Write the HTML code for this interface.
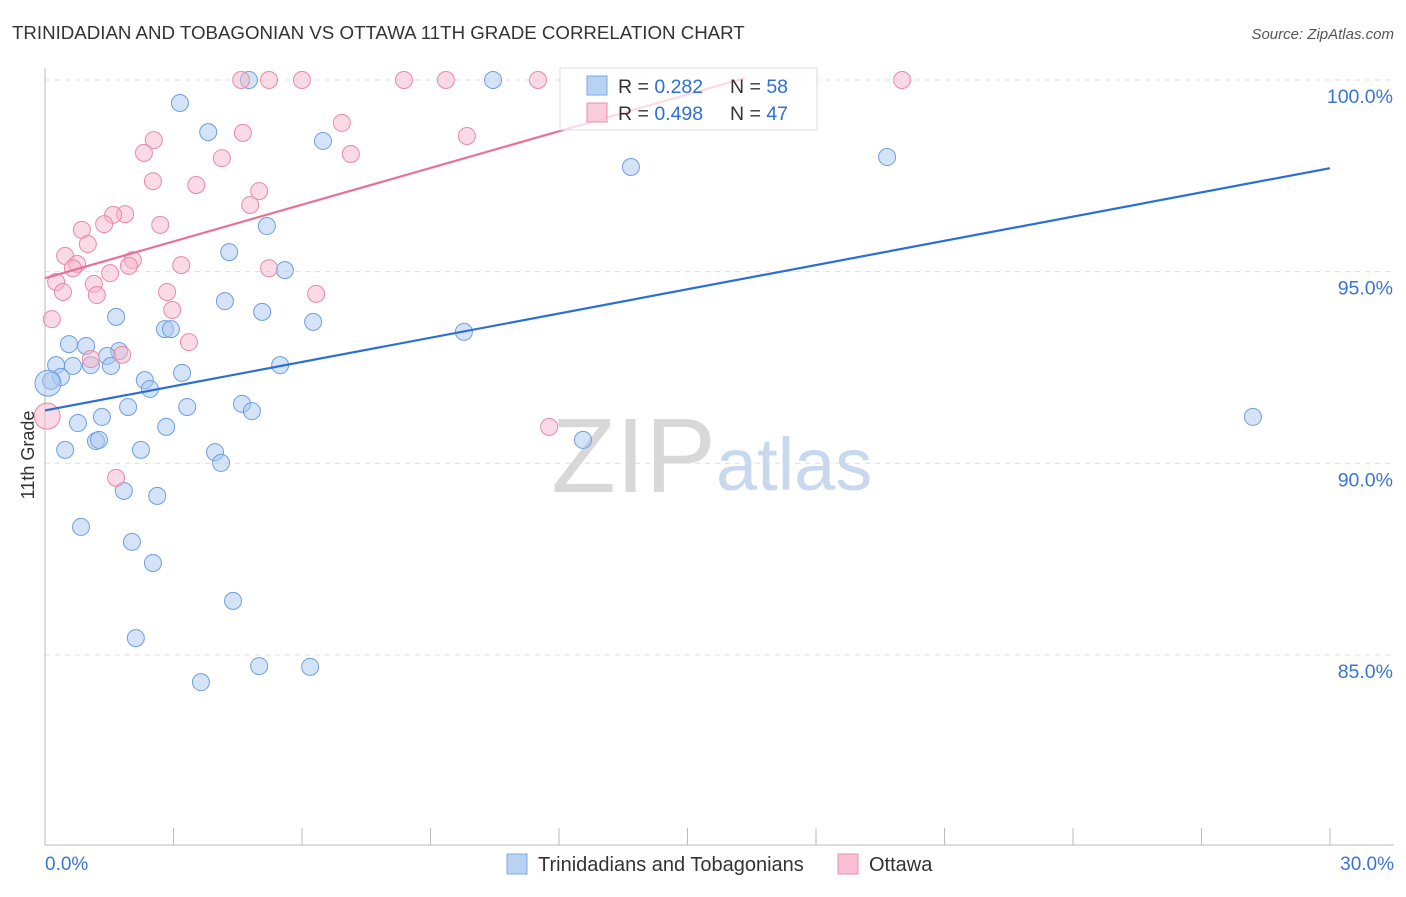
<!DOCTYPE html>
<html><head><meta charset="utf-8">
<style>
body{margin:0;background:#fff;font-family:"Liberation Sans",sans-serif;}
svg text{font-family:"Liberation Sans",sans-serif;}
</style></head>
<body>
<svg id="chart" width="1406" height="892" xmlns="http://www.w3.org/2000/svg">
<text x="12" y="39" font-size="18.7" fill="#333">TRINIDADIAN AND TOBAGONIAN VS OTTAWA 11TH GRADE CORRELATION CHART</text>
<text x="1394" y="39" font-size="15" fill="#555" font-style="italic" text-anchor="end">Source: ZipAtlas.com</text>
<text x="716" y="492" font-size="106" fill="#d8d8d8" text-anchor="end" font-family="Liberation Serif">ZIP</text>
<text x="716" y="490" font-size="74" fill="#c8d8ee">atlas</text>
<g id="grid"></g>
<g id="axes"></g>
<g id="pts"></g>
<g id="lines"></g>
<text transform="translate(34,455) rotate(-90)" font-size="18" fill="#333" text-anchor="middle">11th Grade</text>
<g>
<rect x="560" y="68" width="257" height="62" fill="#fff" fill-opacity="0.75" stroke="#ddd"/>
<rect x="587" y="76" width="20" height="19" fill="#b8d2f4" stroke="#7ea8e0"/>
<rect x="587" y="103" width="20" height="19" fill="#f8c0d2" stroke="#e890ae" fill-opacity="0.8"/>
<text x="618" y="93" font-size="19.5" fill="#333">R = <tspan fill="#2d6fd6">0.282</tspan><tspan x="730">N = </tspan><tspan fill="#2d6fd6">58</tspan></text>
<text x="618" y="120" font-size="19.5" fill="#333">R = <tspan fill="#2d6fd6">0.498</tspan><tspan x="730">N = </tspan><tspan fill="#2d6fd6">47</tspan></text>
</g>
<g>
<rect x="507" y="854" width="20" height="20" fill="#b8d2f4" stroke="#7ea8e0"/>
<text x="538" y="871" font-size="20" fill="#333">Trinidadians and Tobagonians</text>
<rect x="838" y="854" width="20" height="20" fill="#f8c0d2" stroke="#e890ae"/>
<text x="869" y="871" font-size="20" fill="#333">Ottawa</text>
</g>
</svg>
<script>
const xTicks=[0,3,6,9,12,15,18,21,24,27,30];
const yTicks=[85,90,95,100];
const yTickLabels=["85.0%","90.0%","95.0%","100.0%"];
const xTickLabels=["0.0%","30.0%"];
const blueX=[4.76,10.46,3.15,3.81,6.49,13.68,19.66,5.18,4.30,5.60,4.20,5.07,1.66,6.26,2.80,2.94,9.78,0.56,0.96,1.73,1.45,0.26,0.65,1.07,1.54,5.49,3.20,0.37,2.33,0.14,2.45,3.32,1.94,4.60,4.83,1.33,0.77,2.83,1.19,1.26,0.47,2.24,3.97,4.11,12.56,28.20,1.84,2.62,0.84,2.03,2.52,4.39,2.12,5.00,6.19,3.64,0.07];
const blueY=[100,100,99.40,98.64,98.41,97.73,97.99,96.19,95.51,95.04,94.23,93.95,93.82,93.69,93.50,93.50,93.43,93.11,93.06,92.93,92.80,92.56,92.54,92.56,92.54,92.56,92.36,92.25,92.17,92.15,91.94,91.47,91.47,91.55,91.36,91.21,91.05,90.95,90.58,90.61,90.35,90.35,90.29,90.01,90.61,91.21,89.28,89.15,88.34,87.95,87.40,86.41,85.44,84.71,84.69,84.29,92.09];
const pinkX=[4.58,5.23,6.00,8.38,9.36,11.51,20.01,2.54,4.62,6.93,9.85,2.31,4.13,7.14,2.52,3.53,5.00,4.79,1.87,1.59,1.38,2.69,0.86,1.00,0.47,2.05,0.75,0.65,1.96,3.18,5.23,1.52,0.26,1.14,0.42,1.21,2.85,6.33,2.97,0.16,3.36,1.07,1.80,1.66,11.77,0.05];
const pinkY=[100,100,100,100,100,100,100,98.43,98.62,98.88,98.54,98.10,97.96,98.07,97.36,97.26,97.10,96.74,96.50,96.48,96.24,96.22,96.09,95.72,95.41,95.30,95.20,95.09,95.15,95.17,95.09,94.96,94.73,94.68,94.47,94.39,94.47,94.42,94.00,93.76,93.16,92.72,92.83,89.62,90.95,91.23];
const blueTrendX=[0,30];
const blueTrendY=[91.38,97.70];
const pinkTrendX=[0,16.34];
const pinkTrendY=[94.83,100.05];
const X=v=>45+v*(1285/30);
const Y=v=>80+(100-v)*38.33;
const NS="http://www.w3.org/2000/svg";
function mk(tag,attrs,parent){const e=document.createElementNS(NS,tag);for(const k in attrs)e.setAttribute(k,attrs[k]);parent.appendChild(e);return e;}
const grid=document.getElementById('grid'),axes=document.getElementById('axes'),pts=document.getElementById('pts'),lines=document.getElementById('lines');
yTicks.forEach((t,i)=>{
  const l=mk('line',{x1:45,x2:1394,y1:Y(t),y2:Y(t),stroke:'#ddd','stroke-dasharray':'5,5'},grid);
  
  
  const tx=mk('text',{x:1393,y:Y(t)+23,'font-size':19.5,fill:'#3a75d4','text-anchor':'end'},axes);
  tx.textContent=yTickLabels[i];
  
  
});
const ax=mk('line',{x1:45,x2:45,y1:68,y2:845,stroke:'#bbb'},axes);


const bx=mk('line',{x1:45,x2:1394,y1:845,y2:845,stroke:'#bbb'},axes);


xTicks.forEach(t=>{
  const l=mk('line',{x1:X(t),x2:X(t),y1:828,y2:845,stroke:'#bbb'},axes);
  
  
});
[[0,'start',45],[30,'end',1394]].forEach((d,i)=>{
  const tx=mk('text',{x:d[2],y:870,'font-size':19,fill:'#3a75d4','text-anchor':d[1]},axes);
  tx.textContent=xTickLabels[i];
  
  
});
function series(xs,ys,fill,stroke,name){
  xs.forEach((x,i)=>{
    const big=(x<0.1);
    const c=mk('circle',{cx:X(x),cy:Y(ys[i]),r:big?13:8.5,fill:fill,'fill-opacity':0.5,stroke:stroke,'stroke-width':1},pts);
    
    
  });
}
series(blueX,blueY,'#a9c8f0','#6e9fe0','point-trinidadian');
series(pinkX,pinkY,'#f5b5ca','#e88aa8','point-ottawa');
function trend(xs,ys,color,name){
  const l=mk('line',{x1:X(xs[0]),y1:Y(ys[0]),x2:X(xs[1]),y2:Y(ys[1]),stroke:color,'stroke-width':2.2},lines);
  
  
}
trend(blueTrendX,blueTrendY,'#2a6fd6','trend-line-trinidadian');
trend(pinkTrendX,pinkTrendY,'#e8709a','trend-line-ottawa');
</script>
</body></html>
